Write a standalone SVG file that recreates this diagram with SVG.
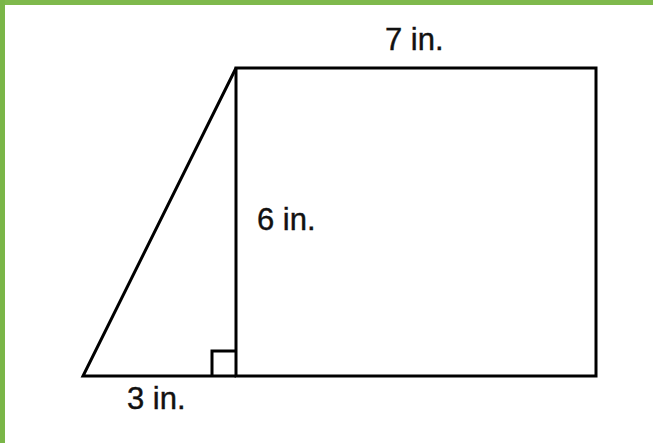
<svg xmlns="http://www.w3.org/2000/svg" width="653" height="443" viewBox="0 0 653 443">
<style>
.ln{fill:none;stroke:#000;stroke-width:3;stroke-linejoin:miter}
.lbl{font-family:"Liberation Sans",Arial,sans-serif;font-size:31px;fill:#111;stroke:#111;stroke-width:0.4}
</style>
<rect width="653" height="443" fill="#fff"/>
<rect x="0" y="0" width="653" height="5" fill="#7fb94c"/>
<rect x="0" y="0" width="5" height="443" fill="#7ab648"/>
<g id="rectangle"><rect class="ln" x="236" y="68" width="360" height="308"/></g>
<g id="triangle"><polyline class="ln" points="236,68 83,376 236,376"/></g>
<g id="right-angle"><polyline class="ln" points="212,376 212,351 236,351"/></g>
<g id="labels">
<text class="lbl" x="385" y="50">7 in.</text>
<text class="lbl" x="257" y="230">6 in.</text>
<text class="lbl" x="127" y="409">3 in.</text>
</g>
</svg>
